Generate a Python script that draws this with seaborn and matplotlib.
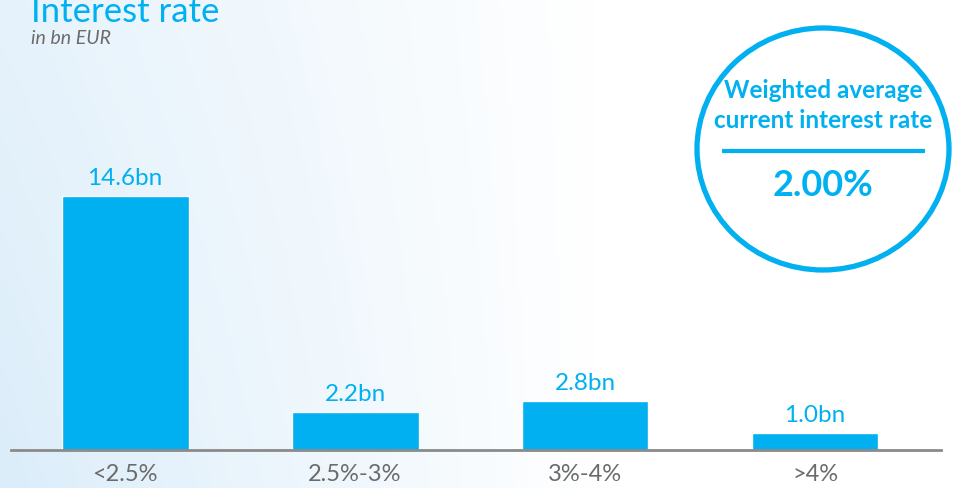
import numpy as np
import pandas as pd
import matplotlib
matplotlib.use("Agg")
import matplotlib.pyplot as plt
from matplotlib.patches import Ellipse
import seaborn as sns

categories = ["<2.5%", "2.5%-3%", "3%-4%", ">4%"]
values = [14.6, 2.2, 2.8, 1.0]
value_labels = ["14.6bn", "2.2bn", "2.8bn", "1.0bn"]
title = "Interest rate"
subtitle = "in bn EUR"
circle_lines = ["Weighted average", "current interest rate"]
circle_value = "2.00%"

CYAN = "#00B0F0"
GRAY = "#6b6b6b"

sns.set_theme(style="white")
plt.rcParams['font.family'] = ['Lato', 'DejaVu Sans']

W, H = 954, 488
fig = plt.figure(figsize=(W / 100, H / 100), dpi=100)

# background gradient
bg = fig.add_axes([0, 0, 1, 1])
grad = np.linspace(0, 1, 256)[None, :]
gx = np.clip(grad * 1.6, 0, 1)
c0 = np.array([0.86, 0.93, 0.98])
c1 = np.array([1.0, 1.0, 1.0])
img = c0[None, None, :] * (1 - gx[..., None]) + c1[None, None, :] * gx[..., None]
vert = np.linspace(0.0, 1.0, 64)[:, None, None]
img = np.repeat(img, 64, axis=0)
img = img * (1 - 0.3 * vert) + 0.3 * vert * c1
bg.imshow(img, aspect="auto", extent=[0, 1, 0, 1], origin="lower")
bg.set_axis_off()

# main axes: x 11..941 px, y from 60 px to 450 px (top-down)
left, right = 11 / W, 941 / W
bottom, top = 1 - 450 / H, 1 - 60 / H
ax = fig.add_axes([left, bottom, right - left, top - bottom])
ax.patch.set_alpha(0)

df = pd.DataFrame({"cat": categories, "val": values})
sns.barplot(data=df, x="cat", y="val", color=CYAN, saturation=1, width=0.552, ax=ax)
ax.set_xlim(-0.496, 3.548)
ax.set_ylim(0, 22.4)
for i, (v, lab) in enumerate(zip(values, value_labels)):
    ax.annotate(lab, (i, v), xytext=(0, 5), textcoords="offset points",
                ha="center", va="bottom", color=CYAN, fontsize=17.5)
ax.set_xlabel("")
ax.set_ylabel("")
ax.set_yticks([])
for s in ["top", "right", "left"]:
    ax.spines[s].set_visible(False)
ax.spines["bottom"].set_color("#8a8a8a")
ax.spines["bottom"].set_linewidth(2)
ax.tick_params(axis="x", length=0, pad=10, labelsize=17, labelcolor=GRAY)

# title / subtitle
fig.text(31 / W, 1 - 12 / H, title, color=CYAN, fontsize=25, va="center", ha="left")
fig.text(31 / W, 1 - 39 / H, subtitle, color=GRAY, fontsize=14, style="italic",
         va="center", ha="left")

# circle
ov = fig.add_axes([0, 0, 1, 1])
ov.set_xlim(0, W)
ov.set_ylim(H, 0)
ov.set_axis_off()
ov.patch.set_alpha(0)
ov.add_patch(Ellipse((823, 149), 252, 242, fill=False, edgecolor=CYAN, linewidth=3.8))
ov.text(823, 91, circle_lines[0], color=CYAN, fontsize=17.5, fontweight="bold",
        ha="center", va="center")
ov.text(823, 121, circle_lines[1], color=CYAN, fontsize=17.5, fontweight="bold",
        ha="center", va="center")
ov.plot([722, 925], [151, 151], color=CYAN, linewidth=3, solid_capstyle="butt")
ov.text(823, 185, circle_value, color=CYAN, fontsize=26, fontweight="bold",
        ha="center", va="center")

fig.savefig("out.png", dpi=100)
